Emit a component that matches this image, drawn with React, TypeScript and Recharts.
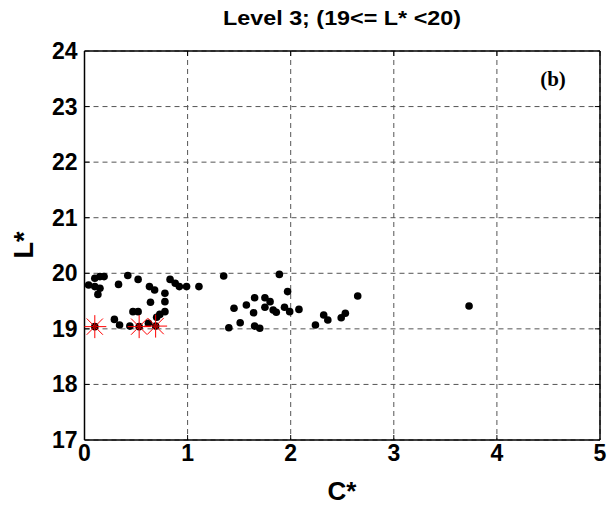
import React from 'react';
import { ScatterChart, Scatter, XAxis, YAxis, CartesianGrid, ReferenceLine } from 'recharts';

const dotC = [0.04, 0.10, 0.15, 0.19, 0.10, 0.15, 0.13, 0.33, 0.42, 0.52, 0.63, 0.68, 0.78, 0.83, 0.88, 0.92, 0.99, 1.11, 0.64, 0.78, 0.47, 0.52, 0.78, 0.73, 0.70, 0.29, 0.34, 0.44, 0.62,
  1.35, 1.45, 1.40, 1.51, 1.57, 1.65, 1.64, 1.65, 1.70, 1.75, 1.80, 1.75, 1.83, 1.86, 1.89, 1.97, 1.94, 1.99, 2.08, 2.24, 2.32, 2.36, 2.49, 2.53, 2.65, 3.73];
const dotL = [19.79, 19.91, 19.94, 19.94, 19.76, 19.73, 19.62, 19.80, 19.96, 19.89, 19.76, 19.70, 19.64, 19.89, 19.82, 19.76, 19.76, 19.76, 19.48, 19.49, 19.31, 19.31, 19.31, 19.26, 19.21, 19.17, 19.07, 19.05, 19.10,
  19.95, 19.37, 19.02, 19.11, 19.43, 19.56, 19.29, 19.05, 19.01, 19.56, 19.49, 19.39, 19.34, 19.30, 19.98, 19.67, 19.39, 19.31, 19.35, 19.07, 19.25, 19.16, 19.20, 19.28, 19.59, 19.41];
const starC = [0.10, 0.53, 0.69];
const starL = [19.04, 19.04, 19.05];

const xTicks = [0, 1, 2, 3, 4, 5];
const yTicks = [17, 18, 19, 20, 21, 22, 23, 24];

const dots = dotC.map((c, i) => ({ c, l: dotL[i] }));
const stars = starC.map((c, i) => ({ c, l: starL[i] }));

const FONT = '"Liberation Sans", Arial, sans-serif';

const Dot = (p: any) => <circle cx={p.cx} cy={p.cy} r={3.8} fill="#000" />;
const Star = (p: any) => {
  const { cx, cy } = p;
  const r = 11.5;
  const d = r * 0.7071;
  return (
    <g>
      <circle cx={cx} cy={cy} r={3.8} fill="#000" />
      <g stroke="#ff0000" strokeWidth={1}>
        <line x1={cx - r} y1={cy} x2={cx + r} y2={cy} />
        <line x1={cx} y1={cy - r} x2={cx} y2={cy + r} />
        <line x1={cx - d} y1={cy - d} x2={cx + d} y2={cy + d} />
        <line x1={cx - d} y1={cy + d} x2={cx + d} y2={cy - d} />
      </g>
      <circle cx={cx} cy={cy} r={1.5} fill="#a00000" />
    </g>
  );
};

const XTick = (p: any) => (
  <text x={p.x} y={p.y} dy={18} textAnchor="middle" fontFamily={FONT} fontWeight="bold" fontSize={23} fill="#000">
    {p.payload.value}
  </text>
);
const YTick = (p: any) => (
  <text x={p.x} y={p.y} dy={8} textAnchor="end" fontFamily={FONT} fontWeight="bold" fontSize={23} fill="#000">
    {p.payload.value}
  </text>
);

export default function App() {
  return (
    <div style={{ position: 'absolute', left: 0, top: 0, width: 611, height: 505, background: '#fff' }}>
      <ScatterChart width={611} height={505} margin={{ top: 51, right: 11, bottom: 20, left: 0 }}>
        <CartesianGrid stroke="#555" strokeDasharray="5 4" />
        <XAxis type="number" dataKey="c" domain={[0, 5]} ticks={xTicks} interval={0} height={45}
          axisLine={{ stroke: '#000', strokeWidth: 1.5 }} tickLine={false} tickSize={0} tickMargin={3} tick={<XTick />} allowDataOverflow />
        <YAxis type="number" dataKey="l" domain={[17, 24]} ticks={yTicks} interval={0} width={84.5}
          axisLine={{ stroke: '#000', strokeWidth: 1.5 }} tickLine={false} tickSize={0} tickMargin={7} tick={<YTick />} allowDataOverflow />
        <ReferenceLine x={5} stroke="#000" strokeWidth={1.5} />
        <ReferenceLine y={24} stroke="#000" strokeWidth={1.5} />
        {xTicks.slice(1, -1).map((t) => (
          <ReferenceLine key={'xb' + t} segment={[{ x: t, y: 17 }, { x: t, y: 17.09 }]} stroke="#000" strokeWidth={1} />
        ))}
        {xTicks.slice(1, -1).map((t) => (
          <ReferenceLine key={'xt' + t} segment={[{ x: t, y: 24 }, { x: t, y: 23.91 }]} stroke="#000" strokeWidth={1} />
        ))}
        {yTicks.slice(1, -1).map((t) => (
          <ReferenceLine key={'yl' + t} segment={[{ x: 0, y: t }, { x: 0.05, y: t }]} stroke="#000" strokeWidth={1} />
        ))}
        {yTicks.slice(1, -1).map((t) => (
          <ReferenceLine key={'yr' + t} segment={[{ x: 5, y: t }, { x: 4.95, y: t }]} stroke="#000" strokeWidth={1} />
        ))}
        <Scatter data={dots} shape={Dot} isAnimationActive={false} />
        <Scatter data={stars} shape={Star} isAnimationActive={false} />
      </ScatterChart>
      <svg width={611} height={505} style={{ position: 'absolute', left: 0, top: 0, pointerEvents: 'none' }}>
        <text x={342} y={25} textAnchor="middle" fontFamily={FONT} fontWeight="bold" fontSize={20} textLength={238} lengthAdjust="spacingAndGlyphs">Level 3; (19&lt;= L* &lt;20)</text>
        <text x={553} y={86} textAnchor="middle" fontFamily='"Liberation Serif", "Times New Roman", serif' fontWeight="bold" fontSize={21}>(b)</text>
        <text x={342} y={500} textAnchor="middle" fontFamily={FONT} fontWeight="bold" fontSize={26}>C*</text>
        <text transform="translate(33,245) rotate(-90)" textAnchor="middle" fontFamily={FONT} fontWeight="bold" fontSize={27}>L*</text>
      </svg>
    </div>
  );
}
